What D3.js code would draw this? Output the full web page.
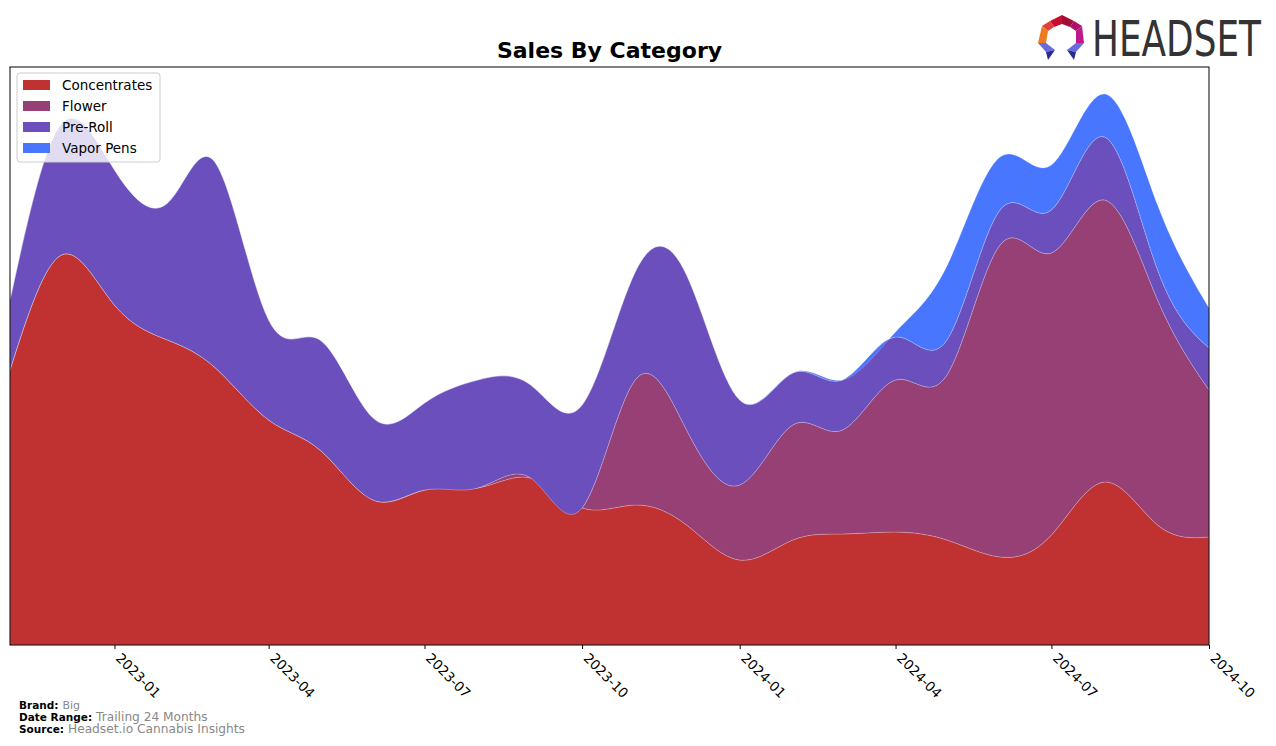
<!DOCTYPE html>
<html>
<head>
<meta charset="utf-8">
<script src="https://cdn.jsdelivr.net/npm/d3@7"></script>
<style>
  body { margin: 0; background: #fff; }
  svg { font-family: "DejaVu Sans", sans-serif; }
</style>
</head>
<body>
<svg id="chart" width="1276" height="746"></svg>
<script>
// monthly points, trailing 24 months
const months = ['2022-11', '2022-12', '2023-01', '2023-02', '2023-03', '2023-04', '2023-05', '2023-06',
  '2023-07', '2023-08', '2023-09', '2023-10', '2023-11', '2023-12', '2024-01', '2024-02',
  '2024-03', '2024-04', '2024-05', '2024-06', '2024-07', '2024-08', '2024-09', '2024-10'];

const concentrates = [275, 390, 340, 305, 277, 225, 195, 145, 155, 157, 167, 137,
  140, 120, 85, 105, 111, 113, 105, 88, 110, 163, 120, 108];
const flower = [0, 0, 0, 0, 0, 0, 0, 0, 0, 0, 0, 0,
  125, 95, 75, 115, 104, 152, 165, 312, 282, 282, 225, 147];
const preRoll = [70, 131, 135, 137, 205, 100, 110, 82, 87, 108, 93, 103,
  108, 155, 85, 52, 50, 43, 35, 35, 43, 63, 30, 42];
const vaporPens = [0, 0, 0, 0, 0, 0, 0, 0, 0, 0, 0, 0,
  0, 0, 0, 0, 0, 5, 74, 53, 45, 43, 65, 40];

const seriesNames = ['Concentrates', 'Flower', 'Pre-Roll', 'Vapor Pens'];
const seriesColors = ['#c03232', '#964076', '#6a4fbd', '#4876ff'];
const xTicks = ['2023-01', '2023-04', '2023-07', '2023-10', '2024-01', '2024-04', '2024-07', '2024-10'];

const parse = d3.timeParse('%Y-%m');
const rows = months.map((m, i) => ({
  date: parse(m),
  'Concentrates': concentrates[i],
  'Flower': flower[i],
  'Pre-Roll': preRoll[i],
  'Vapor Pens': vaporPens[i]
}));

const margin = { top: 67, right: 67, bottom: 101, left: 10 };
const width = 1276 - margin.left - margin.right;
const height = 746 - margin.top - margin.bottom;

const svg = d3.select('#chart');

const x = d3.scaleTime()
  .domain([parse('2022-11'), parse('2024-10')])
  .range([0, width]);

const y = d3.scaleLinear()
  .domain([0, 578])
  .range([height, 0]);

const stacked = d3.stack().keys(seriesNames)(rows);

const chart = svg.append('g')
  .attr('transform', `translate(${margin.left},${margin.top})`);

chart.append('clipPath').attr('id', 'plotClip')
  .append('rect').attr('width', width).attr('height', height);

const area = d3.area()
  .curve(d3.curveNatural)
  .x(d => x(d.data.date))
  .y0(d => y(d[0]))
  .y1(d => y(d[1]));

chart.append('g')
  .attr('clip-path', 'url(#plotClip)')
  .selectAll('path')
  .data(stacked)
  .enter()
  .append('path')
  .attr('d', area)
  .attr('fill', (d, i) => seriesColors[i])
  .attr('stroke', 'rgba(255,255,255,0.35)')
  .attr('stroke-width', 0.6);

// frame
chart.append('rect')
  .attr('width', width)
  .attr('height', height)
  .attr('fill', 'none')
  .attr('stroke', '#000')
  .attr('stroke-width', 1);

// x axis
const xaxis = d3.axisBottom(x)
  .tickValues(xTicks.map(parse))
  .tickFormat(d3.timeFormat('%Y-%m'))
  .tickSizeOuter(0)
  .tickSize(4);

const gx = chart.append('g')
  .attr('class', 'x axis')
  .attr('transform', `translate(0, ${height})`)
  .call(xaxis);
gx.select('.domain').remove();
gx.selectAll('text')
  .attr('font-size', 13.5)
  .attr('font-family', 'DejaVu Sans')
  .attr('fill', '#000')
  .attr('text-anchor', 'start')
  .attr('dy', 0)
  .attr('transform', 'translate(5,9) rotate(45)');

// title
svg.append('text')
  .attr('x', margin.left + width / 2)
  .attr('y', 58)
  .attr('text-anchor', 'middle')
  .attr('font-size', 22)
  .attr('font-weight', 'bold')
  .text('Sales By Category');

// legend
const legend = svg.append('g').attr('transform', 'translate(17,73)');
legend.append('rect')
  .attr('width', 143).attr('height', 89)
  .attr('rx', 3)
  .attr('fill', 'rgba(255,255,255,0.8)')
  .attr('stroke', '#ccc');
seriesNames.forEach((name, i) => {
  const row = legend.append('g').attr('transform', `translate(6, ${7 + i * 21})`);
  row.append('rect').attr('width', 27).attr('height', 10).attr('fill', seriesColors[i]);
  row.append('text').attr('x', 39).attr('y', 10)
    .attr('font-size', 13.5).attr('fill', '#000').text(name);
});

// footer notes
const notes = [['Brand:', 'Big', 11], ['Date Range:', 'Trailing 24 Months', 12.2], ['Source:', 'Headset.io Cannabis Insights', 12.2]];
notes.forEach((n, i) => {
  const t = svg.append('text').attr('x', 19).attr('y', 709 + i * 12);
  t.append('tspan').attr('font-size', 10.5).attr('font-weight', 'bold').attr('fill', '#000').text(n[0]);
  t.append('tspan').attr('dx', 4).attr('font-size', n[2]).attr('fill', '#888').text(n[1]);
});

// headset logo
const logo = svg.append('g').attr('transform', 'translate(1038,15)');
const facets = [
  { pts: [[12, 6], [24, 0], [24, 9], [16, 12]], c: '#c8102e' },
  { pts: [[24, 0], [36, 6], [32, 12], [24, 9]], c: '#a0103a' },
  { pts: [[12, 6], [16, 12], [10, 16], [4, 11]], c: '#e0413a' },
  { pts: [[36, 6], [44, 11], [38, 16], [32, 12]], c: '#b0106a' },
  { pts: [[4, 11], [10, 16], [8, 28], [0, 28]], c: '#f07a22' },
  { pts: [[44, 11], [46, 28], [38, 28], [38, 16]], c: '#c01888' },
  { pts: [[0, 28], [8, 28], [17, 35], [8, 37]], c: '#6a6ae0' },
  { pts: [[46, 28], [38, 28], [29, 35], [38, 37]], c: '#6a6ae0' },
  { pts: [[8, 37], [17, 35], [10, 45]], c: '#2a2a90' },
  { pts: [[38, 37], [29, 35], [36, 45]], c: '#2a2a90' }
];
facets.forEach(f => {
  logo.append('polygon')
    .attr('points', f.pts.map(p => p.join(',')).join(' '))
    .attr('fill', f.c);
});
const brandText = svg.append('text')
  .attr('font-size', 50)
  .attr('fill', '#333')
  .text('HEADSET');
const natural = brandText.node().getComputedTextLength();
brandText.attr('transform', `translate(1092,56) scale(${169 / natural},1)`);
</script>
</body>
</html>
